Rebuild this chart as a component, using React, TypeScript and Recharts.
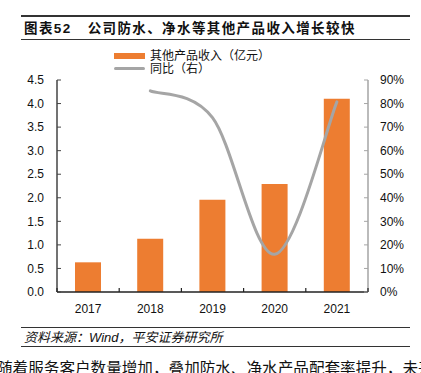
import React from 'react';
import { ComposedChart, Bar, Line, XAxis, YAxis } from 'recharts';

const years = ['2017', '2018', '2019', '2020', '2021'];
const revenue = [0.63, 1.13, 1.96, 2.29, 4.1];
const yoy = [null, 85.4, 74, 16, 80.7];
const leftTicks = [0, 0.5, 1, 1.5, 2, 2.5, 3, 3.5, 4, 4.5];
const rightTicks = [0, 10, 20, 30, 40, 50, 60, 70, 80, 90];

const data = years.map((year, i) => ({ year, revenue: revenue[i], yoy: yoy[i] }));

const FONT = '"Liberation Sans", Arial, "Noto Sans CJK SC", sans-serif';
const ORANGE = '#ED7D31';
const GRAY = '#A5A5A5';

// Excel-style smoothing: cardinal bezier, control points at 1/6 of neighbour span
function excelCurve(context: any) {
  let pts: [number, number][] = [];
  return {
    areaStart() {},
    areaEnd() {},
    lineStart() {
      pts = [];
    },
    point(x: number, y: number) {
      pts.push([+x, +y]);
    },
    lineEnd() {
      if (!pts.length) return;
      context.moveTo(pts[0][0], pts[0][1]);
      for (let i = 0; i < pts.length - 1; i++) {
        const p0 = pts[Math.max(i - 1, 0)];
        const p1 = pts[i];
        const p2 = pts[i + 1];
        const p3 = pts[Math.min(i + 2, pts.length - 1)];
        context.bezierCurveTo(
          p1[0] + (p2[0] - p0[0]) / 6,
          p1[1] + (p2[1] - p0[1]) / 6,
          p2[0] - (p3[0] - p1[0]) / 6,
          p2[1] - (p3[1] - p1[1]) / 6,
          p2[0],
          p2[1],
        );
      }
    },
  };
}

const Rule = ({ top, h = 1 }: { top: number; h?: number }) => (
  <div style={{ position: 'absolute', left: 21, width: 389, top, height: h, background: '#333' }} />
);

// category labels centred, small inward ticks on the category boundaries
const XTick = (props: any) => {
  const { x, y, payload } = props;
  const half = 31.1;
  return (
    <g>
      <line x1={x - half} x2={x - half} y1={y - 12} y2={y - 16} stroke="#222" strokeWidth={1.2} />
      {payload.index === years.length - 1 && (
        <line x1={x + half} x2={x + half} y1={y - 12} y2={y - 16} stroke="#222" strokeWidth={1.2} />
      )}
      <text x={x} y={y} dy="0.71em" textAnchor="middle" fontSize={12} fill="#111" fontFamily={FONT}>
        {payload.value}
      </text>
    </g>
  );
};

const LegendBox = () => (
  <div style={{ position: 'absolute', left: 114, top: 50, fontFamily: FONT, fontSize: 12, color: '#111', lineHeight: '12.5px', whiteSpace: 'nowrap' }}>
    <div style={{ display: 'flex', alignItems: 'center' }}>
      <span style={{ display: 'inline-block', width: 31, height: 6, background: ORANGE, marginRight: 5 }} />
      其他产品收入（亿元）
    </div>
    <div style={{ display: 'flex', alignItems: 'center' }}>
      <span style={{ display: 'inline-block', width: 31, height: 3, borderRadius: 2, background: GRAY, marginRight: 5 }} />
      同比（右）
    </div>
  </div>
);

export default function App() {
  return (
    <div style={{ position: 'absolute', left: 0, top: 0, width: 421, height: 373, background: '#fff', overflow: 'hidden', fontFamily: FONT }}>
      <Rule top={15} h={2} />
      <div style={{ position: 'absolute', left: 24, top: 20, fontSize: 13.5, fontWeight: 'bold', color: '#111', lineHeight: '17px', letterSpacing: 1.4, whiteSpace: 'nowrap' }}>
        图表52<span style={{ marginLeft: 16 }}>公司防水、净水等其他产品收入增长较快</span>
      </div>
      <Rule top={39} />
      <div style={{ position: 'absolute', left: 0, top: 0 }}>
        <ComposedChart width={421} height={373} data={data} margin={{ top: 80, right: 0, bottom: 51, left: 0 }}>
          <XAxis
            dataKey="year"
            height={30}
            tickLine={false}
            tickMargin={6}
            tick={<XTick />}
            axisLine={{ stroke: '#222', strokeWidth: 1.5 }}
          />
          <YAxis
            yAxisId="left"
            width={57}
            domain={[0, 4.5]}
            ticks={leftTicks}
            interval={0}
            tickFormatter={(v: number) => v.toFixed(1)}
            tickSize={-4}
            tickMargin={17}
            tick={{ fontSize: 12, fill: '#111', fontFamily: FONT }}
            axisLine={{ stroke: '#444', strokeWidth: 1.5 }}
            tickLine={{ stroke: '#444' }}
          />
          <YAxis
            yAxisId="right"
            orientation="right"
            width={53}
            domain={[0, 90]}
            ticks={rightTicks}
            interval={0}
            tickFormatter={(v: number) => `${v}%`}
            tickSize={-4}
            tickMargin={16}
            tick={{ fontSize: 12, fill: '#111', fontFamily: FONT, textAnchor: 'start' }}
            axisLine={{ stroke: GRAY, strokeWidth: 1.5 }}
            tickLine={{ stroke: GRAY }}
          />
          <Bar yAxisId="left" dataKey="revenue" name="其他产品收入（亿元）" fill={ORANGE} barSize={26} isAnimationActive={false} />
          <Line
            yAxisId="right"
            dataKey="yoy"
            name="同比（右）"
            type={excelCurve as any}
            stroke={GRAY}
            strokeWidth={3}
            dot={false}
            strokeLinecap="round"
            isAnimationActive={false}
          />
        </ComposedChart>
      </div>
      <LegendBox />
      <Rule top={327} />
      <div style={{ position: 'absolute', left: 24, top: 330, fontSize: 13, fontStyle: 'italic', color: '#111', lineHeight: '15px', whiteSpace: 'nowrap' }}>
        资料来源：Wind，平安证券研究所
      </div>
      <Rule top={346} />
      <div style={{ position: 'absolute', left: -3, top: 358, fontSize: 15.6, color: '#111', lineHeight: '18px', whiteSpace: 'nowrap', fontFamily: '"Noto Sans CJK SC", sans-serif' }}>
        随着服务客户数量增加，叠加防水、净水产品配套率提升，未来
      </div>
    </div>
  );
}
